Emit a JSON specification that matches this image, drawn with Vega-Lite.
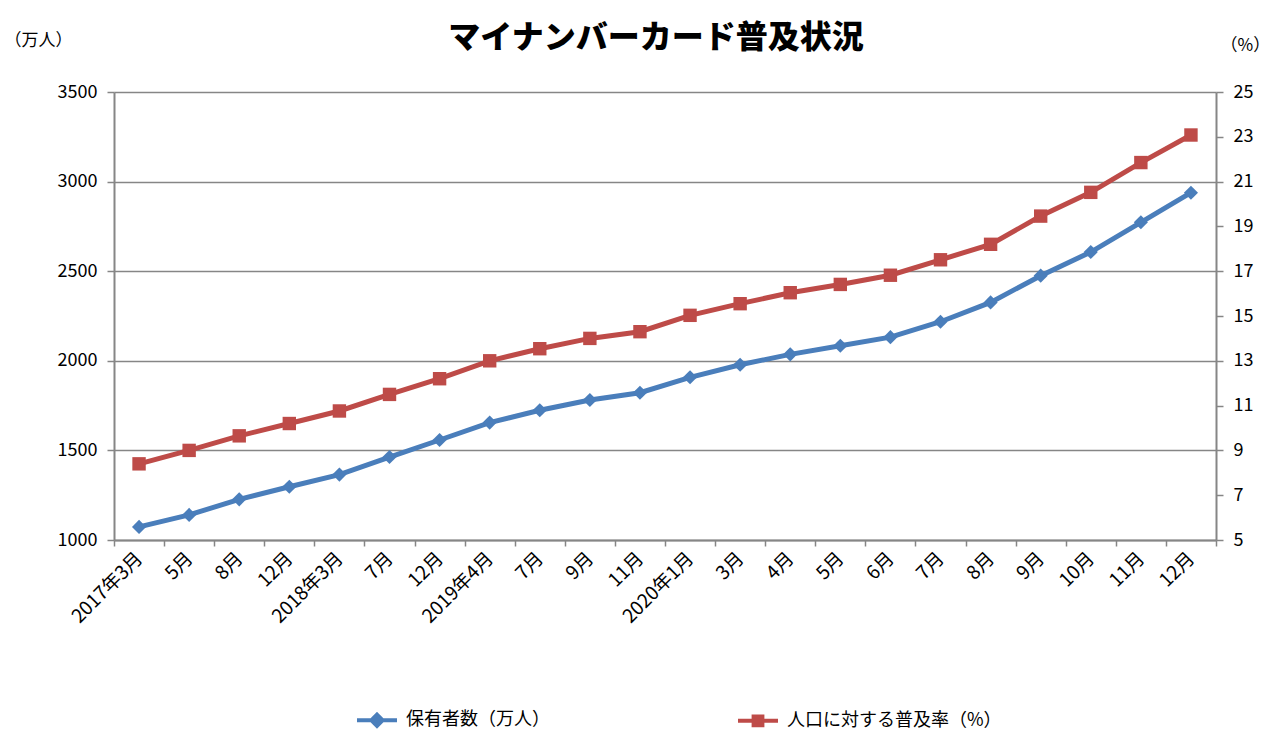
{
  "$schema": "https://vega.github.io/schema/vega-lite/v6.json",
  "description": "マイナンバーカード普及状況 (dual axis line chart)",
  "width": 1102,
  "height": 448,
  "autosize": "none",
  "padding": {"left": 114, "top": 92, "right": 64, "bottom": 214},
  "background": "white",
  "title": {
    "text": "マイナンバーカード普及状況",
    "font": "Noto Sans CJK JP",
    "fontSize": 32,
    "fontWeight": 900,
    "color": "#000000",
    "anchor": "middle",
    "offset": 0,
    "dy": 24,
    "dx": -9
  },
  "data": {
    "values": [
      {"month": "2017年3月", "holders": 1073, "rate": 8.4},
      {"month": "2017年5月", "holders": 1140, "rate": 9.0},
      {"month": "2017年8月", "holders": 1227, "rate": 9.65},
      {"month": "2017年12月", "holders": 1297, "rate": 10.2},
      {"month": "2018年3月", "holders": 1365, "rate": 10.76},
      {"month": "2018年7月", "holders": 1463, "rate": 11.5},
      {"month": "2018年12月", "holders": 1558, "rate": 12.2},
      {"month": "2019年4月", "holders": 1655, "rate": 13.0},
      {"month": "2019年7月", "holders": 1724, "rate": 13.54},
      {"month": "2019年9月", "holders": 1781, "rate": 14.0},
      {"month": "2019年11月", "holders": 1822, "rate": 14.3},
      {"month": "2020年1月", "holders": 1908, "rate": 15.03},
      {"month": "2020年3月", "holders": 1978, "rate": 15.55},
      {"month": "2020年4月", "holders": 2036, "rate": 16.04},
      {"month": "2020年5月", "holders": 2084, "rate": 16.41},
      {"month": "2020年6月", "holders": 2132, "rate": 16.82},
      {"month": "2020年7月", "holders": 2218, "rate": 17.51},
      {"month": "2020年8月", "holders": 2326, "rate": 18.2},
      {"month": "2020年9月", "holders": 2475, "rate": 19.46},
      {"month": "2020年10月", "holders": 2607, "rate": 20.52},
      {"month": "2020年11月", "holders": 2773, "rate": 21.85},
      {"month": "2020年12月", "holders": 2938, "rate": 23.08}
    ]
  },
  "encoding": {
    "x": {
      "field": "month",
      "type": "ordinal",
      "sort": null,
      "bandPosition": 0.5,
      "scale": {"type": "band", "paddingInner": 0, "paddingOuter": 0},
      "axis": {
        "title": null,
        "labelExpr": "indexof(['2017年3月', '2018年3月', '2019年4月', '2020年1月'], datum.value) >= 0 ? datum.value : split(datum.value, '年')[1]",
        "labelAngle": -45,
        "labelAlign": "right",
        "labelBaseline": "middle",
        "labelFontSize": 19,
        "labelColor": "#000000",
        "labelPadding": 9,
        "labelOverlap": false,
        "labelLimit": 0,
        "tickBand": "extent",
        "tickSize": 6,
        "tickWidth": 1.5,
        "tickColor": "#868686",
        "domainColor": "#868686",
        "domainWidth": 2,
        "grid": false
      }
    }
  },
  "layer": [
    {
      "mark": {
        "type": "line",
        "strokeWidth": 5,
        "point": {"filled": true, "size": 200, "shape": "diamond", "opacity": 1}
      },
      "encoding": {
        "y": {
          "field": "holders",
          "type": "quantitative",
          "scale": {"domain": [1000, 3500], "nice": false, "zero": false},
          "axis": {
            "values": [1000, 1500, 2000, 2500, 3000, 3500],
            "format": "d",
            "title": "（万人）",
            "titleAngle": 0,
            "titleAlign": "left",
            "titleBaseline": "middle",
            "titleX": -110,
            "titleY": -52,
            "titleFontSize": 17,
            "titleFontWeight": "normal",
            "titleColor": "#000000",
            "labelFontSize": 18,
            "labelColor": "#000000",
            "labelPadding": 10,
            "tickSize": 7,
            "tickWidth": 1.5,
            "tickColor": "#868686",
            "domainColor": "#868686",
            "domainWidth": 2,
            "grid": true,
            "gridColor": "#868686",
            "gridWidth": 1.5
          }
        },
        "color": {
          "datum": "保有者数（万人）",
          "type": "nominal",
          "scale": {
            "domain": ["保有者数（万人）", "人口に対する普及率（%）"],
            "range": ["#4A7EBB", "#BE4B48"]
          },
          "legend": {
            "orient": "none",
            "legendX": 241,
            "legendY": 606,
            "direction": "horizontal",
            "title": null,
            "labelFontSize": 18,
            "labelColor": "#000000",
            "labelOffset": 7,
            "labelLimit": 0,
            "symbolSize": 1600,
            "symbolStrokeWidth": 4,
            "columnPadding": 180,
            "encode": {
              "symbols": {
                "update": {
                  "shape": {"signal": "datum.value === '保有者数（万人）' ? 'M-1,0L1,0M0,-0.28L0.28,0L0,0.28L-0.28,0Z' : 'M-1,0L1,0M-0.22,-0.22L0.22,-0.22L0.22,0.22L-0.22,0.22Z'"},
                  "fill": {"scale": "color", "field": "value"},
                  "stroke": {"scale": "color", "field": "value"},
                  "strokeWidth": {"value": 4},
                  "opacity": {"value": 1}
                }
              }
            }
          }
        }
      }
    },
    {
      "mark": {
        "type": "line",
        "strokeWidth": 5,
        "point": {"filled": true, "size": 180, "shape": "square", "opacity": 1}
      },
      "encoding": {
        "y": {
          "field": "rate",
          "type": "quantitative",
          "scale": {"domain": [5, 25], "nice": false, "zero": false},
          "axis": {
            "orient": "right",
            "values": [5, 7, 9, 11, 13, 15, 17, 19, 21, 23, 25],
            "title": "（%）",
            "titleAngle": 0,
            "titleAlign": "left",
            "titleBaseline": "middle",
            "titleX": 4,
            "titleY": -47,
            "titleFontSize": 17,
            "titleFontWeight": "normal",
            "titleColor": "#000000",
            "labelFontSize": 18,
            "labelColor": "#000000",
            "labelPadding": 10,
            "tickSize": 7,
            "tickWidth": 1.5,
            "tickColor": "#868686",
            "domainColor": "#868686",
            "domainWidth": 2,
            "grid": false
          }
        },
        "color": {"datum": "人口に対する普及率（%）", "type": "nominal"}
      }
    }
  ],
  "resolve": {"scale": {"y": "independent"}},
  "config": {
    "font": "Noto Sans CJK JP",
    "view": {"stroke": null}
  }
}
